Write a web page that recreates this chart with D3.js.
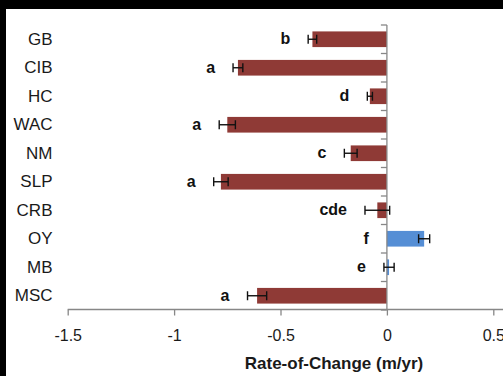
<!DOCTYPE html>
<html>
<head>
<meta charset="utf-8">
<script src="https://cdn.jsdelivr.net/npm/d3@7"></script>
<style>
  html, body { margin: 0; padding: 0; background: #fff; }
  svg { display: block; }
</style>
</head>
<body>
<svg id="chart" width="503" height="376"></svg>
<script>
// Sites, mean rate-of-change (m/yr), standard errors and significance groups
const categories = ["GB", "CIB", "HC", "WAC", "NM", "SLP", "CRB", "OY", "MB", "MSC"];
const rates      = [-0.35, -0.70, -0.08, -0.75, -0.17, -0.78, -0.045, 0.175, 0.01, -0.61];
const errors     = [0.02, 0.023, 0.012, 0.038, 0.03, 0.034, 0.058, 0.026, 0.024, 0.045];
const groups     = ["b", "a", "d", "a", "c", "a", "cde", "f", "e", "a"];
const xTicks     = [-1.5, -1, -0.5, 0, 0.5];

const W = 503, H = 376;
const svg = d3.select("#chart");
const axisColor = "#878787";
const red = "#8f3a36", blue = "#558ed5";

const x = d3.scaleLinear().domain([-1.5, 0.5]).range([67.7, 493.3]);
const y = d3.scaleBand().domain(categories).range([25, 310])
  .paddingInner(0.45).paddingOuter(0.225);

const rows = categories.map((c, i) => ({ cat: c, v: rates[i], e: errors[i], g: groups[i] }));

// bars
svg.append("g").selectAll("rect").data(rows).join("rect")
  .attr("x", d => x(Math.min(0, d.v)))
  .attr("y", d => y(d.cat))
  .attr("width", d => Math.abs(x(d.v) - x(0)))
  .attr("height", y.bandwidth())
  .attr("fill", d => d.v < 0 ? red : blue);

// x axis
const xAxis = svg.append("g")
  .attr("transform", "translate(0,309.5)")
  .call(d3.axisBottom(x).tickValues(xTicks).tickSize(6).tickSizeOuter(0)
    .tickFormat(d => String(d)));
xAxis.select(".domain").remove();
xAxis.selectAll(".tick line").attr("stroke", axisColor).attr("stroke-width", 1.3);
xAxis.selectAll(".tick text")
  .attr("y", 20)
  .attr("dy", "0.71em")
  .attr("fill", "#1a1a1a")
  .style("font-family", "'Liberation Sans', Arial, sans-serif")
  .style("font-size", "16px");
svg.append("line")
  .attr("x1", x(-1.5)).attr("x2", W)
  .attr("y1", 309.5).attr("y2", 309.5)
  .attr("stroke", axisColor).attr("stroke-width", 1.3);

// vertical zero axis with ticks at category boundaries
const step = y.step();
const firstEdge = y(categories[0]) - step * y.paddingInner() / 2;
const bounds = d3.range(categories.length + 1).map(i => firstEdge + i * step);
svg.append("line")
  .attr("x1", x(0)).attr("x2", x(0))
  .attr("y1", firstEdge).attr("y2", 309.5)
  .attr("stroke", axisColor).attr("stroke-width", 1.3);
svg.append("g").selectAll("line").data(bounds).join("line")
  .attr("x1", x(0) - 6).attr("x2", x(0))
  .attr("y1", d => d).attr("y2", d => d)
  .attr("stroke", axisColor).attr("stroke-width", 1.3);

// error bars
const eb = svg.append("g").attr("stroke", "#111").attr("stroke-width", 1.4);
rows.forEach(d => {
  const cy = y(d.cat) + y.bandwidth() / 2;
  const x1 = x(d.v - d.e), x2 = x(d.v + d.e);
  eb.append("line").attr("x1", x1).attr("x2", x2).attr("y1", cy).attr("y2", cy);
  eb.append("line").attr("x1", x1).attr("x2", x1).attr("y1", cy - 4.5).attr("y2", cy + 4.5);
  eb.append("line").attr("x1", x2).attr("x2", x2).attr("y1", cy - 4.5).attr("y2", cy + 4.5);
});

// significance group letters
svg.append("g").selectAll("text").data(rows).join("text")
  .attr("x", d => x(Math.min(0, d.v - d.e)) - 18)
  .attr("y", d => y(d.cat) + y.bandwidth() / 2 + 5)
  .attr("text-anchor", "end")
  .attr("fill", "#111")
  .style("font-family", "'Liberation Sans', Arial, sans-serif")
  .style("font-weight", "bold")
  .style("font-size", "16px")
  .text(d => d.g);

// category labels
svg.append("g").selectAll("text").data(categories).join("text")
  .attr("x", 52.5)
  .attr("y", d => y(d) + y.bandwidth() / 2 + 5.5)
  .attr("text-anchor", "end")
  .attr("fill", "#1a1a1a")
  .style("font-family", "'Liberation Sans', Arial, sans-serif")
  .style("font-size", "17px")
  .text(d => d);

// axis title
svg.append("text")
  .attr("x", 334).attr("y", 369)
  .attr("text-anchor", "middle")
  .attr("fill", "#1a1a1a")
  .style("font-family", "'Liberation Sans', Arial, sans-serif")
  .style("font-weight", "bold")
  .style("font-size", "17px")
  .text("Rate-of-Change (m/yr)");

// dark frame along the top and left edges
svg.append("rect").attr("x", 0).attr("y", 0).attr("width", W).attr("height", 9).attr("fill", "#000");
svg.append("rect").attr("x", 0).attr("y", 0).attr("width", 6).attr("height", H).attr("fill", "#000");
</script>
</body>
</html>
